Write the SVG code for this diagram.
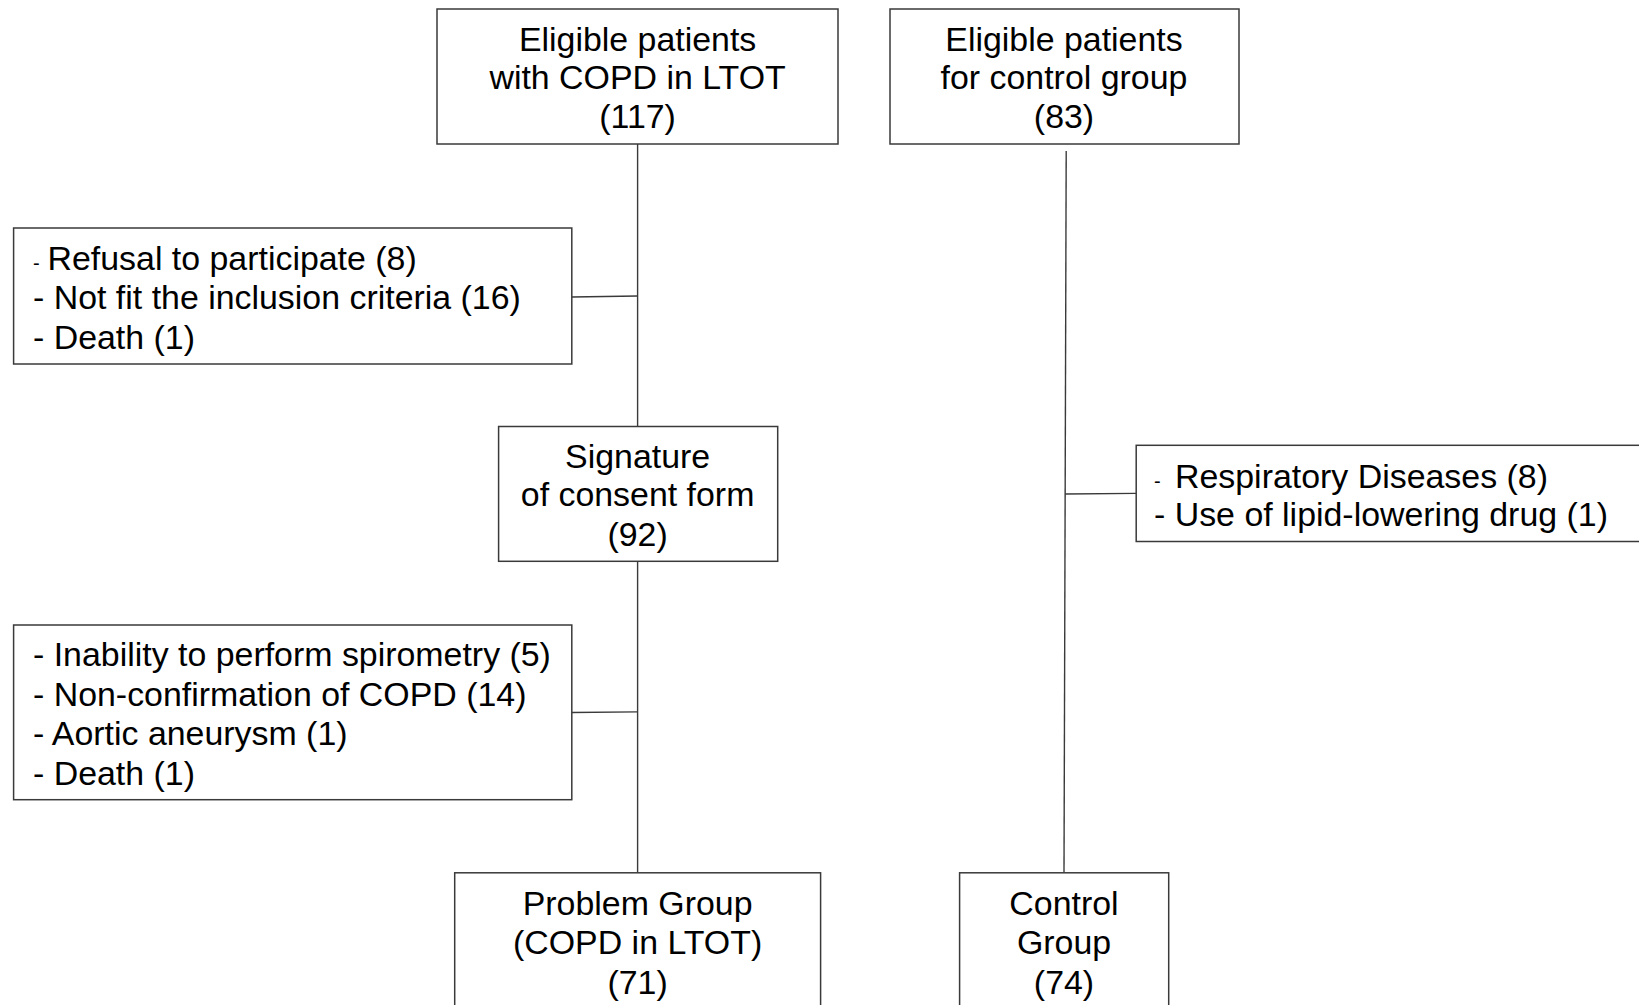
<svg xmlns="http://www.w3.org/2000/svg" width="1639" height="1005" viewBox="0 0 1639 1005">
<style>
.box{fill:#fff;stroke:#3a3a3a;stroke-width:1.5}
.ln{fill:none;stroke:#3a3a3a;stroke-width:1.4}
text{font-family:"Liberation Sans",Arial,sans-serif;font-size:33.9px;fill:#000}
.c{text-anchor:middle}
.sd{font-size:20px}
</style>
<rect width="1639" height="1005" fill="#fff"/>
<g id="connectors">
<line class="ln" x1="637.6" y1="144" x2="637.6" y2="426.5"/>
<line class="ln" x1="571.8" y1="297" x2="637.6" y2="296"/>
<line class="ln" x1="637.6" y1="561.3" x2="637.6" y2="872.8"/>
<line class="ln" x1="571.8" y1="712.5" x2="637.6" y2="711.9"/>
<line class="ln" x1="1066.2" y1="151" x2="1064" y2="872.8"/>
<line class="ln" x1="1065.2" y1="494" x2="1136.2" y2="493.4"/>
</g>
<g id="eligible-ltot">
<rect class="box" x="437" y="9" width="401" height="135"/>
<text class="c" x="637.6" y="50.7">Eligible patients</text>
<text class="c" x="637.6" y="89.4">with COPD in LTOT</text>
<text class="c" x="637.6" y="128">(117)</text>
</g>
<g id="eligible-control">
<rect class="box" x="890" y="9" width="349" height="135"/>
<text class="c" x="1064" y="50.7">Eligible patients</text>
<text class="c" x="1064" y="89.4">for control group</text>
<text class="c" x="1064" y="128">(83)</text>
</g>
<g id="exclusion-1">
<rect class="box" x="13.6" y="228" width="558.2" height="136"/>
<text x="33" y="270"><tspan class="sd">-</tspan><tspan x="47.5">Refusal to participate (8)</tspan></text>
<text x="33" y="309">- Not fit the inclusion criteria (16)</text>
<text x="33" y="348.6">- Death (1)</text>
</g>
<g id="consent">
<rect class="box" x="498.6" y="426.5" width="279.1" height="134.8"/>
<text class="c" x="637.6" y="467.8">Signature</text>
<text class="c" x="637.6" y="506.4">of consent form</text>
<text class="c" x="637.6" y="546">(92)</text>
</g>
<g id="exclusion-control">
<rect class="box" x="1136.2" y="445.3" width="510" height="96.2"/>
<text x="1154" y="487.6"><tspan class="sd">-</tspan><tspan x="1175">Respiratory Diseases (8)</tspan></text>
<text x="1154" y="526.3">- Use of lipid-lowering drug (1)</text>
</g>
<g id="exclusion-2">
<rect class="box" x="13.6" y="625" width="558.2" height="174.7"/>
<text x="33" y="666.4">- Inability to perform spirometry (5)</text>
<text x="33" y="706">- Non-confirmation of COPD (14)</text>
<text x="33" y="744.8">- Aortic aneurysm (1)</text>
<text x="33" y="784.5">- Death (1)</text>
</g>
<g id="problem-group">
<rect class="box" x="454.7" y="872.8" width="365.9" height="150"/>
<text class="c" x="637.6" y="915">Problem Group</text>
<text class="c" x="637.6" y="953.8">(COPD in LTOT)</text>
<text class="c" x="637.6" y="993.5">(71)</text>
</g>
<g id="control-group">
<rect class="box" x="959.6" y="872.8" width="209.1" height="150"/>
<text class="c" x="1064" y="915">Control</text>
<text class="c" x="1064" y="953.8">Group</text>
<text class="c" x="1064" y="993.5">(74)</text>
</g>
</svg>
